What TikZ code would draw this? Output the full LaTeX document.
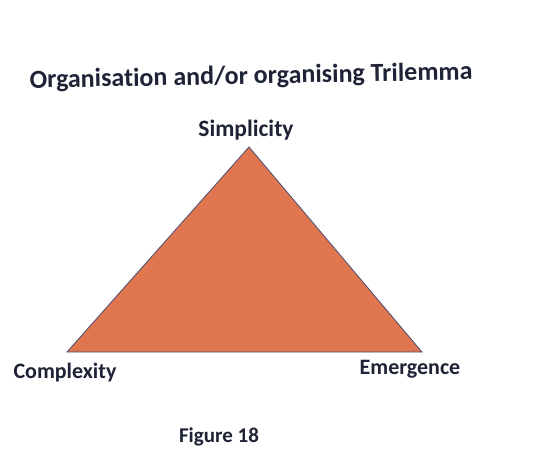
\documentclass[tikz,border=0pt]{standalone}
\usepackage{fontspec}
\setmainfont{Carlito}[Ligatures=NoCommon]
\definecolor{tri}{HTML}{E0764F}
\definecolor{triedge}{HTML}{4A4E72}
\definecolor{ink}{HTML}{1E2436}
\begin{document}
\begin{tikzpicture}[x=1pt,y=-1pt,
  lbl/.style={font=\bfseries\fontsize{22}{26}\selectfont, text=ink, inner sep=0pt}]
\useasboundingbox[fill=white] (0,0) rectangle (536,458);
\node[font=\bfseries\fontsize{26}{30}\selectfont, text=ink, rotate=1.1, inner sep=0pt] (title) at (251,77) {Organisation and/or organising Trilemma};
\coordinate (A) at (249,147);
\coordinate (B) at (67,352);
\coordinate (C) at (422,352);
\draw[fill=tri, draw=triedge, line width=0.8pt, line join=miter] (A) -- (B) -- (C) -- cycle;
\node[lbl, font=\bfseries\fontsize{23.5}{27}\selectfont] (simp) at (246,130) {Simplicity};
\node[lbl] (comp) at (65,373) {Complexity};
\node[lbl] (emer) at (410,369) {Emergence};
\node[lbl, font=\bfseries\fontsize{21}{25}\selectfont] (fig) at (219,437) {Figure 18};
\end{tikzpicture}
\end{document}
